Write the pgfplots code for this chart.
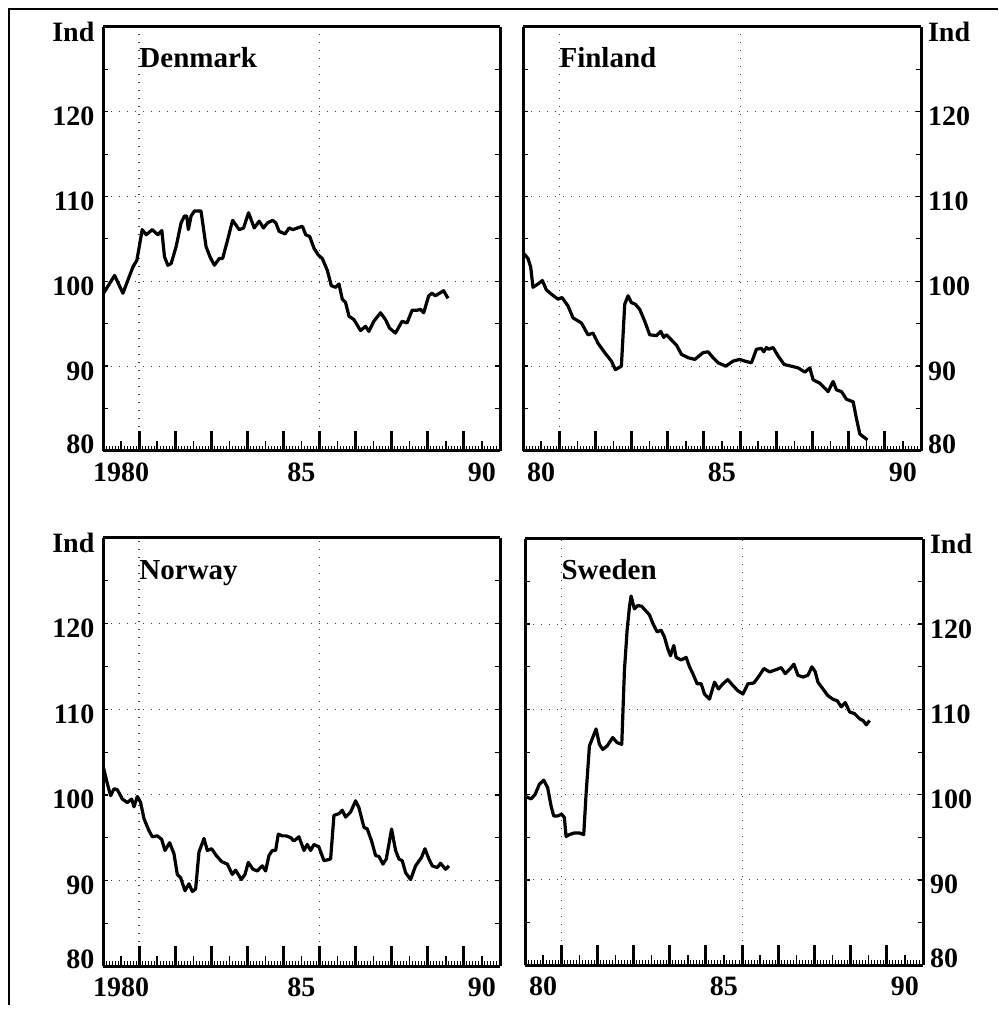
\documentclass[border=0pt]{standalone}
\usepackage{fontspec}
\setmainfont{Liberation Serif}
\usepackage{pgfplots}
\pgfplotsset{compat=1.18}

\newcommand\tickfont{\fontsize{14pt}{16pt}\selectfont\bfseries}
\newcommand\titlefont{\fontsize{14.5pt}{17pt}\selectfont\bfseries}

\pgfplotsset{
  panel/.style={
    scale only axis,
    xmin=1980, xmax=1991, ymin=80, ymax=130,
    separate axis lines,
    every outer x axis line/.append style={line width=1.5pt},
    every outer y axis line/.append style={line width=1.5pt},
    tick align=inside,
    xtick pos=bottom,
    ytick pos=both,
    % half-year positions carry the year labels
    xtick={1980.5,1981.5,...,1990.5},
    % monthly ticks
    minor xtick={1980.083333,1980.166667,...,1990.95},
    major tick length=2.5pt,
    minor tick length=2.5pt,
    every major tick/.append style={line width=0.7pt, black},
    every minor tick/.append style={line width=0.5pt, black},
    ytick={80,90,...,130},
    minor ytick={85,95,...,125},
    ymajorgrids,
    major grid style={line width=0.6pt, black!75, dash pattern=on 0.6pt off 3.4pt},
    tick label style={font=\tickfont},
    xticklabel style={yshift=-2.3pt},
  },
  leftpanel/.style={
    panel,
    xticklabels={1980,,,,,85,,,,,90},
    yticklabels={\raisebox{1.25pt}[0pt][0pt]{80},90,100,110,120,Ind},
    yticklabel style={yshift=-2.5pt, xshift=-0.8pt},
  },
  rightpanel/.style={
    panel,
    xticklabels={80,,,,,85,,,,,90},
    yticklabel pos=right,
    ytick pos=both,
    yticklabels={\raisebox{1.25pt}[0pt][0pt]{80},90,100,110,120,Ind},
    yticklabel style={yshift=-2.5pt},
  },
  series/.style={black, line width=1.6pt, line join=round, mark=none},
}
\tikzset{
  vgrid/.style={line width=0.6pt, black!75, dash pattern=on 0.6pt off 3.4pt},
  paneltitle/.style={anchor=base west, inner sep=0pt, font=\titlefont},
  yeartick/.style={line width=1.5pt, black},
  halftick/.style={line width=0.7pt, black},
}
% grid lines and the long year / half-year ticks on the time axis
\newcommand\timeaxis{%
  \draw[vgrid] (axis cs:1981,80) -- (axis cs:1981,130);
  \draw[vgrid] (axis cs:1986,80) -- (axis cs:1986,130);
  \pgfplotsinvokeforeach{1981,1982,...,1990}{%
    \draw[yeartick] (axis cs:##1,80) -- ([yshift=10pt]axis cs:##1,80);}
  \pgfplotsinvokeforeach{1980.5,1981.5,...,1990.5}{%
    \draw[halftick] (axis cs:##1,80) -- ([yshift=5pt]axis cs:##1,80);}
}

\begin{document}
\begin{tikzpicture}
\useasboundingbox (0,0) rectangle (499pt,505pt);
% page border
\draw[line width=0.8pt] (4.5pt,2.5pt) -- (4.5pt,500.5pt) -- (499pt,500.5pt);

% ---------------- Denmark ----------------
\begin{axis}[leftpanel, at={(51.5pt,279.5pt)}, anchor=south west,
  width=198.5pt, height=212pt]
\timeaxis
\node[paneltitle] at (axis cs:1981,125.2) {Denmark};
\addplot[series] coordinates {
(1980.000,98.5) (1980.322,100.7) (1980.552,98.6) (1980.829,101.7) (1980.939,102.5)
(1981.087,106.1) (1981.197,105.5) (1981.363,106.1) (1981.519,105.5) (1981.630,106.0)
(1981.704,102.9) (1981.796,101.9) (1981.888,102.1) (1982.026,104.1) (1982.164,106.9)
(1982.256,107.7) (1982.320,107.7) (1982.366,106.1) (1982.440,107.7) (1982.532,108.3)
(1982.716,108.3) (1982.855,104.1) (1982.965,102.9) (1983.085,101.9) (1983.223,102.7)
(1983.315,102.7) (1983.453,104.9) (1983.591,107.2) (1983.775,106.1) (1983.895,106.3)
(1984.033,108.1) (1984.190,106.3) (1984.328,107.1) (1984.448,106.3) (1984.558,106.9)
(1984.696,107.2) (1984.788,106.9) (1984.880,105.9) (1985.046,105.6) (1985.157,106.3)
(1985.267,106.1) (1985.387,106.3) (1985.525,106.5) (1985.617,105.5) (1985.727,105.3)
(1985.847,103.9) (1985.967,103.1) (1986.077,102.7) (1986.215,101.3) (1986.326,99.5)
(1986.446,99.3) (1986.538,99.7) (1986.630,97.9) (1986.722,97.5) (1986.814,95.9)
(1986.952,95.5) (1987.136,94.2) (1987.274,94.7) (1987.366,94.1) (1987.505,95.3)
(1987.689,96.3) (1987.827,95.5) (1987.937,94.5) (1988.103,93.9) (1988.287,95.3)
(1988.425,95.1) (1988.564,96.6) (1988.702,96.6) (1988.794,96.7) (1988.886,96.3)
(1989.024,98.3) (1989.116,98.6) (1989.208,98.3) (1989.438,98.9) (1989.558,98.0)
};
\end{axis}

% ---------------- Finland ----------------
\begin{axis}[rightpanel, at={(261.5pt,279.5pt)}, anchor=south west,
  width=199pt, height=212pt]
\timeaxis
\node[paneltitle] at (axis cs:1981,125.2) {Finland};
\addplot[series] coordinates {
(1980.000,103.4) (1980.138,102.7) (1980.212,101.7) (1980.276,99.3) (1980.415,99.7)
(1980.535,100.1) (1980.645,99.0) (1980.783,98.5) (1980.968,97.9) (1981.078,98.1)
(1981.244,97.1) (1981.382,95.7) (1981.613,95.1) (1981.797,93.7) (1981.935,93.9)
(1982.074,92.7) (1982.258,91.6) (1982.442,90.6) (1982.553,89.6) (1982.719,90.0)
(1982.811,97.3) (1982.903,98.3) (1982.995,97.5) (1983.106,97.3) (1983.226,96.7)
(1983.364,95.3) (1983.502,93.7) (1983.687,93.6) (1983.806,94.1) (1983.889,93.4)
(1983.963,93.7) (1984.101,93.1) (1984.240,92.5) (1984.378,91.4) (1984.562,91.0)
(1984.747,90.8) (1984.977,91.6) (1985.115,91.7) (1985.253,91.0) (1985.392,90.4)
(1985.604,90.0) (1985.806,90.6) (1985.991,90.8) (1986.129,90.6) (1986.313,90.4)
(1986.452,92.0) (1986.590,92.1) (1986.654,91.7) (1986.728,92.2) (1986.793,92.0)
(1986.912,92.2) (1987.051,91.2) (1987.217,90.2) (1987.419,90.0) (1987.604,89.8)
(1987.788,89.3) (1987.926,89.8) (1988.018,88.4) (1988.203,88.0) (1988.341,87.4)
(1988.433,87.0) (1988.571,88.2) (1988.664,87.2) (1988.802,87.0) (1988.940,86.1)
(1989.124,85.8) (1989.217,83.8) (1989.309,82.0) (1989.429,81.6) (1989.521,81.3)
};
\end{axis}

% ---------------- Norway ----------------
\begin{axis}[leftpanel, at={(51.5pt,22pt)}, anchor=south west,
  width=198.5pt, height=214pt]
\timeaxis
\node[paneltitle] at (axis cs:1981,125.1) {Norway};
\addplot[series] coordinates {
(1980.000,103.4) (1980.120,101.3) (1980.212,99.9) (1980.305,100.7) (1980.397,100.6)
(1980.536,99.5) (1980.674,99.1) (1980.794,99.5) (1980.859,98.6) (1980.951,99.8)
(1981.043,99.1) (1981.136,97.2) (1981.274,95.8) (1981.367,95.1) (1981.505,95.2)
(1981.625,94.8) (1981.717,93.5) (1981.847,94.4) (1981.967,93.1) (1982.059,90.7)
(1982.151,90.3) (1982.271,88.8) (1982.382,89.6) (1982.475,88.7) (1982.567,89.0)
(1982.659,93.3) (1982.798,94.9) (1982.890,93.5) (1983.010,93.7) (1983.139,92.9)
(1983.287,92.2) (1983.444,91.9) (1983.583,90.7) (1983.675,91.2) (1983.832,90.1)
(1983.934,90.7) (1984.026,92.1) (1984.155,91.3) (1984.275,91.1) (1984.414,91.7)
(1984.506,91.1) (1984.598,92.9) (1984.691,93.5) (1984.783,93.5) (1984.857,95.4)
(1984.968,95.2) (1985.079,95.2) (1985.199,95.0) (1985.291,94.6) (1985.429,95.1)
(1985.568,93.5) (1985.660,94.2) (1985.753,93.5) (1985.845,94.2) (1985.983,93.9)
(1986.122,92.3) (1986.307,92.5) (1986.399,97.6) (1986.537,97.8) (1986.630,98.2)
(1986.722,97.4) (1986.861,98.0) (1986.999,99.3) (1987.091,98.5) (1987.230,96.2)
(1987.322,96.0) (1987.442,94.6) (1987.553,92.9) (1987.645,92.8) (1987.756,91.9)
(1987.849,92.5) (1987.996,96.0) (1988.107,93.5) (1988.199,92.5) (1988.292,92.3)
(1988.384,90.9) (1988.523,90.1) (1988.661,91.7) (1988.827,92.7) (1988.920,93.7)
(1989.030,92.5) (1989.123,91.7) (1989.261,91.5) (1989.354,92.0) (1989.492,91.3)
(1989.584,91.7)
};
\end{axis}

% ---------------- Sweden ----------------
\begin{axis}[rightpanel, at={(262.5pt,22.5pt)}, anchor=south west,
  width=199pt, height=213pt]
\timeaxis
\node[paneltitle] at (axis cs:1981,125.2) {Sweden};
\addplot[series] coordinates {
(1980.000,99.8) (1980.166,99.5) (1980.277,100.0) (1980.396,101.2) (1980.516,101.7)
(1980.627,100.8) (1980.719,98.7) (1980.793,97.5) (1980.904,97.5) (1981.014,97.7)
(1981.088,97.3) (1981.134,95.1) (1981.226,95.3) (1981.365,95.5) (1981.503,95.5)
(1981.623,95.3) (1981.687,100.0) (1981.780,105.7) (1981.872,106.7) (1981.964,107.7)
(1982.056,105.9) (1982.148,105.3) (1982.268,105.7) (1982.425,106.7) (1982.545,106.1)
(1982.674,105.9) (1982.748,114.6) (1982.822,119.3) (1982.886,122.0) (1982.932,123.3)
(1983.024,121.8) (1983.117,122.2) (1983.227,122.1) (1983.439,121.1) (1983.532,120.1)
(1983.651,119.1) (1983.762,119.3) (1983.854,118.5) (1983.947,117.1) (1984.020,116.3)
(1984.113,117.5) (1984.177,116.1) (1984.315,115.8) (1984.454,116.1) (1984.546,115.0)
(1984.638,114.2) (1984.758,113.0) (1984.869,113.0) (1984.961,111.8) (1985.099,111.2)
(1985.237,113.2) (1985.348,112.4) (1985.468,113.0) (1985.606,113.5) (1985.744,112.8)
(1985.883,112.2) (1986.021,111.8) (1986.160,113.0) (1986.326,113.1) (1986.482,114.0)
(1986.602,114.8) (1986.759,114.4) (1986.897,114.6) (1987.082,114.9) (1987.192,114.2)
(1987.312,114.7) (1987.432,115.3) (1987.543,114.0) (1987.681,113.8) (1987.819,114.0)
(1987.930,115.0) (1988.022,114.4) (1988.096,113.2) (1988.234,112.4) (1988.373,111.6)
(1988.511,111.2) (1988.631,111.0) (1988.741,110.3) (1988.852,110.8) (1988.972,109.7)
(1989.110,109.5) (1989.248,108.9) (1989.341,108.7) (1989.433,108.2) (1989.525,108.7)
};
\end{axis}
\end{tikzpicture}
\end{document}
